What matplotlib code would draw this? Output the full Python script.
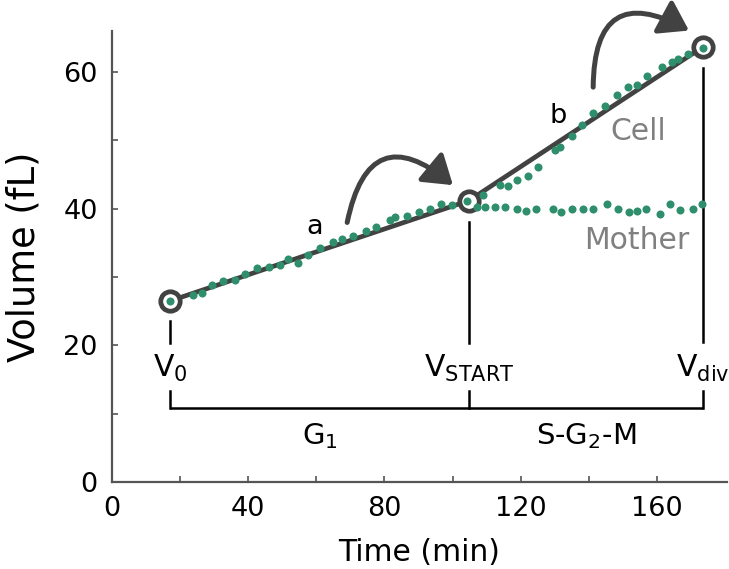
import numpy as np
import matplotlib
matplotlib.use("Agg")
import matplotlib.pyplot as plt
from matplotlib.patches import FancyArrowPatch

plt.rcParams['font.family'] = ['DejaVu Sans']
plt.rcParams['mathtext.fontset'] = 'dejavusans'

# cell volume, G1 phase (min, fL)
g1_t = [17.1, 23.9, 26.4, 29.3, 32.5, 36.2, 39.1, 42.5, 46.2, 49.4, 51.6, 54.5, 57.7, 61.1,
        65.0, 67.6, 70.9, 74.5, 77.5, 81.6, 83.1, 86.5, 90.2, 93.3, 96.5, 99.9, 104.1]
g1_v = [26.5, 27.4, 27.7, 28.8, 29.4, 29.6, 30.5, 31.4, 31.5, 31.7, 32.6, 32.0, 33.2, 34.2,
        35.2, 35.6, 36.0, 36.7, 37.4, 38.4, 38.8, 38.9, 39.6, 40.0, 40.7, 40.6, 41.2]

# cell volume (mother + bud), S-G2-M
cell_t = [109.0, 113.9, 116.3, 118.8, 122.2, 125.1, 130.0, 131.5, 134.9, 137.8, 141.2,
          144.7, 148.1, 151.5, 154.0, 156.9, 161.3, 164.2, 166.2, 169.1, 173.5]
cell_v = [42.0, 43.5, 43.4, 44.2, 44.8, 46.1, 48.6, 49.1, 50.6, 52.3, 54.0,
          55.1, 56.7, 57.8, 58.1, 59.4, 60.8, 61.5, 61.9, 62.6, 63.6]

# mother volume, S-G2-M
mother_t = [107.0, 109.5, 112.4, 115.3, 118.8, 121.5, 124.4, 129.5, 131.9, 134.9, 138.3,
            141.2, 145.2, 148.6, 151.8, 154.0, 156.7, 160.8, 163.7, 166.6, 170.6, 173.0]
mother_v = [40.3, 40.2, 40.2, 40.2, 40.0, 39.7, 40.0, 39.9, 39.6, 40.0, 39.9,
            39.9, 40.7, 39.9, 39.6, 39.7, 40.0, 39.2, 40.7, 39.8, 40.0, 40.7]

# key points: V0, VSTART, Vdiv
key_t = [17.1, 104.8, 173.4]
key_v = [26.5, 41.2, 63.7]
key_labels = [r'V$_0$', r'V$_{\mathrm{START}}$', r'V$_{\mathrm{div}}$']
phase_labels = [r'G$_1$', r'S-G$_2$-M']

green = '#2f8f6c'
dark = '#424242'

fig = plt.figure(figsize=(7.29, 5.69), dpi=100)
ax = fig.add_axes([0.1532, 0.1529, 0.8443, 0.7923])

ax.plot(key_t, key_v, '-', color=dark, lw=3.4, zorder=2, solid_capstyle='round')
ax.plot(key_t, key_v, 'o', ms=14, mfc='white', mec=dark, mew=3.4, zorder=3, linestyle='none')
ax.plot(g1_t, g1_v, 'o', color=green, ms=5.8, mew=0, zorder=4)
ax.plot(cell_t, cell_v, 'o', color=green, ms=5.8, mew=0, zorder=4)
ax.plot(mother_t, mother_v, 'o', color=green, ms=5.8, mew=0, zorder=4)

# vertical markers
v_bottoms = [20.3, 20.3, 20.5]
v_tops = [23.5, 38.1, 60.6]
for t, lo, hi in zip(key_t, v_bottoms, v_tops):
    ax.plot([t, t], [lo, hi], color='black', lw=1.8, zorder=1)

for t, lab in zip(key_t, key_labels):
    ax.text(t, 15.4, lab, ha='center', va='baseline', fontsize=21.5, color='black', clip_on=False)

# phase bracket
yb, yt = 10.9, 13.3
ax.plot([key_t[0], key_t[-1]], [yb, yb], color='black', lw=1.8, solid_capstyle='butt')
for t in key_t:
    ax.plot([t, t], [yb, yt], color='black', lw=1.8)
ax.text((key_t[0] + key_t[1]) / 2, 5.6, phase_labels[0], ha='center', va='baseline', fontsize=21)
ax.text((key_t[1] + key_t[2]) / 2, 5.6, phase_labels[1], ha='center', va='baseline', fontsize=21)

# rate labels
ax.text(59.4, 37.4, 'a', ha='center', va='center', fontsize=19.5)
ax.text(131.0, 53.6, 'b', ha='center', va='center', fontsize=19.5)
ax.text(154.4, 51.3, 'Cell', ha='center', va='center', fontsize=21.5, color='#808080')
ax.text(153.9, 35.4, 'Mother', ha='center', va='center', fontsize=21.5, color='#808080')

# curved arrows
for p0, p1 in [((68.9, 37.6), (100.7, 43.2)), ((141.2, 57.4), (170.0, 65.9))]:
    arr = FancyArrowPatch(p0, p1, connectionstyle='arc3,rad=-0.85',
                          arrowstyle='-|>,head_length=0.9,head_width=0.6',
                          mutation_scale=19, color=dark, lw=3.6, clip_on=False, zorder=5)
    ax.add_patch(arr)

ax.set_xlim(0, 180.5)
ax.set_ylim(0, 66)
ax.set_xticks([0, 40, 80, 120, 160])
ax.set_xticks([20, 60, 100, 140], minor=True)
ax.set_yticks([0, 20, 40, 60])
ax.set_yticks([10, 30, 50], minor=True)
ax.tick_params(which='both', direction='in', length=4, width=1.2, color='#555555',
               labelsize=19.5, pad=10)
for s in ['top', 'right']:
    ax.spines[s].set_visible(False)
for s in ['left', 'bottom']:
    ax.spines[s].set_color('#555555')
    ax.spines[s].set_linewidth(1.6)

ax.set_xlabel('Time (min)', fontsize=21.5)
ax.set_ylabel('Volume (fL)', fontsize=26.5)
ax.xaxis.set_label_coords(0.5, -0.125)
ax.yaxis.set_label_coords(-0.113, 0.5)

fig.savefig('out.png', dpi=100)
